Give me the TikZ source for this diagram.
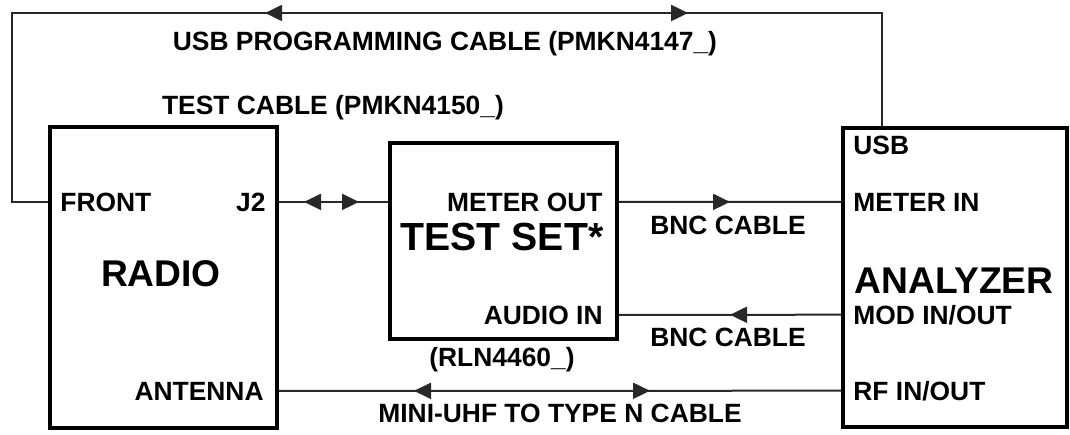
\documentclass[tikz,border=0pt]{standalone}
\usepackage{fontspec}
\setmainfont{Liberation Sans}
\usetikzlibrary{arrows.meta, decorations.markings, calc}
\definecolor{wire}{RGB}{40,40,40}

\begin{document}
\begin{tikzpicture}[x=0.5pt, y=-0.5pt, >=Triangle]
  \tikzstyle{unitbox} = [rectangle, draw=black, line width=2pt, inner sep=0pt]
  \tikzstyle{portlabel} = [inner sep=0pt, font=\fontsize{13.2}{15}\selectfont\bfseries]
  \tikzstyle{unitlabel} = [inner sep=0pt, font=\fontsize{18.6}{20}\selectfont\bfseries]
  \tikzstyle{cable} = [draw=wire, line width=1pt]
  \tikzset{twoway/.style 2 args={postaction={decorate}, decoration={markings,
      mark=at position #1 with {\arrowreversed{Triangle[length=8.5pt,width=8pt]}},
      mark=at position #2 with {\arrow{Triangle[length=8.5pt,width=8pt]}}}},
    oneway/.style={postaction={decorate}, decoration={markings,
      mark=at position #1 with {\arrow{Triangle[length=8.5pt,width=8pt]}}}}}

  \useasboundingbox (0,0) rectangle (1070,434);

  % units
  \node[unitbox, minimum width=113.5pt, minimum height=150.5pt] (radio) at (163.5,277.5) {};
  \node[unitbox, minimum width=113.5pt, minimum height=98pt] (testset) at (503.5,241) {};
  \node[unitbox, minimum width=112pt, minimum height=149.5pt] (analyzer) at (955,277.5) {};

  \node[unitlabel, anchor=base] (radioname) at (161,286) {RADIO};
  \node[unitlabel, anchor=base, font=\fontsize{19.6}{21}\selectfont\bfseries] (testsetname) at (502,250) {TEST SET*};
  \node[unitlabel, anchor=base] (analyzername) at (954,293) {ANALYZER};

  % ports
  \node[portlabel, anchor=base west] (front) at (60,211) {FRONT};
  \node[portlabel, anchor=base east] (j2) at (266,211) {J2};
  \node[portlabel, anchor=base east] (antenna) at (264,400) {ANTENNA};
  \node[portlabel, anchor=base east] (meterout) at (603,211) {METER OUT};
  \node[portlabel, anchor=base east] (audioin) at (603,324) {AUDIO IN};
  \node[portlabel, anchor=base] (testsetpn) at (502,366) {(RLN4460\_)};
  \node[portlabel, anchor=base west] (usb) at (853,154) {USB};
  \node[portlabel, anchor=base west] (meterin) at (853,211) {METER IN};
  \node[portlabel, anchor=base west] (modio) at (853,324) {MOD IN/OUT};
  \node[portlabel, anchor=base west] (rfio) at (853,400) {RF IN/OUT};

  % cable names
  \node[portlabel, anchor=base] (usbcable) at (445,50) {USB PROGRAMMING CABLE (PMKN4147\_)};
  \node[portlabel, anchor=base] (testcable) at (333,114) {TEST CABLE (PMKN4150\_)};
  \node[portlabel, anchor=base] (bnctop) at (728,234) {BNC CABLE};
  \node[portlabel, anchor=base] (bncbottom) at (728,346) {BNC CABLE};
  \node[portlabel, anchor=base] (rfcable) at (560,422) {MINI-UHF TO TYPE N CABLE};

  % cables
  \coordinate (usbleft) at (12,13);
  \coordinate (usbright) at (882,13);
  \draw[cable, twoway={239pt}{450.5pt}] (radio.west |- front) -| (usbleft) -- (usbright) -- (usbright |- analyzer.north);
  \draw[cable, twoway={12.5pt}{40pt}] (radio.east |- j2) -- (testset.west |- j2);
  \draw[cable, oneway=55.5pt] (testset.east |- meterout) -- (analyzer.west |- meterin);
  \draw[cable, oneway=55.5pt] (analyzer.west |- modio) -- (testset.east |- audioin);
  \draw[cable, twoway={67.5pt}{185.5pt}] (radio.east |- antenna) -- (analyzer.west |- rfio);
\end{tikzpicture}
\end{document}
